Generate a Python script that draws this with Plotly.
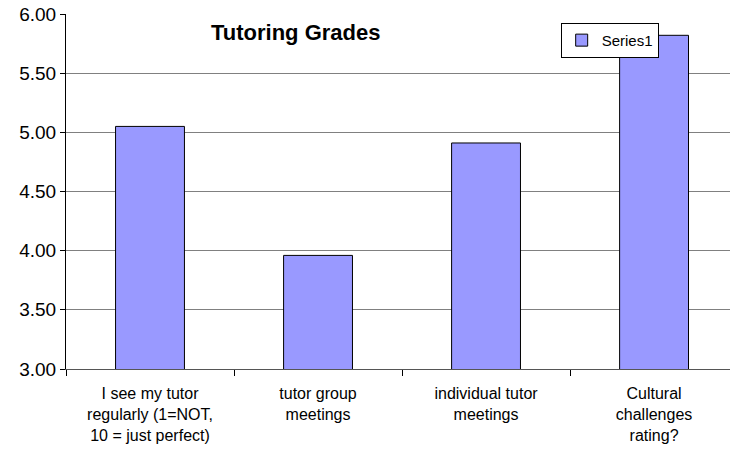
import plotly.graph_objects as go

categories = [
    "I see my tutor<br>regularly (1=NOT,<br>10 = just perfect)",
    "tutor group<br>meetings",
    "individual tutor<br>meetings",
    "Cultural<br>challenges<br>rating?",
]
values = [5.05, 3.96, 4.91, 5.82]
series_name = "Series1"
y_ticks = [3.0, 3.5, 4.0, 4.5, 5.0, 5.5, 6.0]

FONT = "Liberation Sans, Arial, sans-serif"

fig = go.Figure(
    go.Bar(
        x=categories,
        y=values,
        name=series_name,
        marker=dict(color="#9999FF", line=dict(color="black", width=1)),
        showlegend=True,
    )
)

fig.update_layout(
    width=730,
    height=461,
    margin=dict(l=66, r=0, t=14, b=92),
    paper_bgcolor="white",
    plot_bgcolor="white",
    bargap=0.59,
    font=dict(family=FONT, color="black", size=16),
    showlegend=True,
    legend=dict(
        x=0.745, y=0.975, xanchor="left", yanchor="top",
        bordercolor="black", borderwidth=1, bgcolor="white",
        font=dict(family=FONT, size=15, color="black"),
        itemwidth=30,
        tracegroupgap=0,
    ),
    annotations=[
        dict(
            text="<b>Tutoring Grades</b>", xref="paper", yref="paper",
            x=0.346, y=0.949, xanchor="center", yanchor="middle",
            showarrow=False, font=dict(family=FONT, size=22, color="black"),
        )
    ],
)

fig.update_xaxes(
    type="category",
    range=[-0.5, 3.452],
    automargin=False,
    showline=True, linecolor="#555555", linewidth=1,
    ticks="outside", tickson="boundaries", ticklen=6, tickcolor="black",
    tickfont=dict(family=FONT, size=16, color="black"),
    ticklabelstandoff=10,
    showgrid=False,
)

fig.update_yaxes(
    range=[3, 6],
    automargin=False,
    tickvals=y_ticks,
    tickformat=".2f",
    showline=True, linecolor="black", linewidth=1,
    ticks="outside", ticklen=5, tickcolor="black",
    tickfont=dict(family=FONT, size=19, color="black"),
    showgrid=True, gridcolor="#808080", gridwidth=1,
    zeroline=False,
)

fig.write_html(
    "out.html",
    config={"displayModeBar": False},
    post_script="document.body.style.margin='0';document.body.style.overflow='hidden';",
)
